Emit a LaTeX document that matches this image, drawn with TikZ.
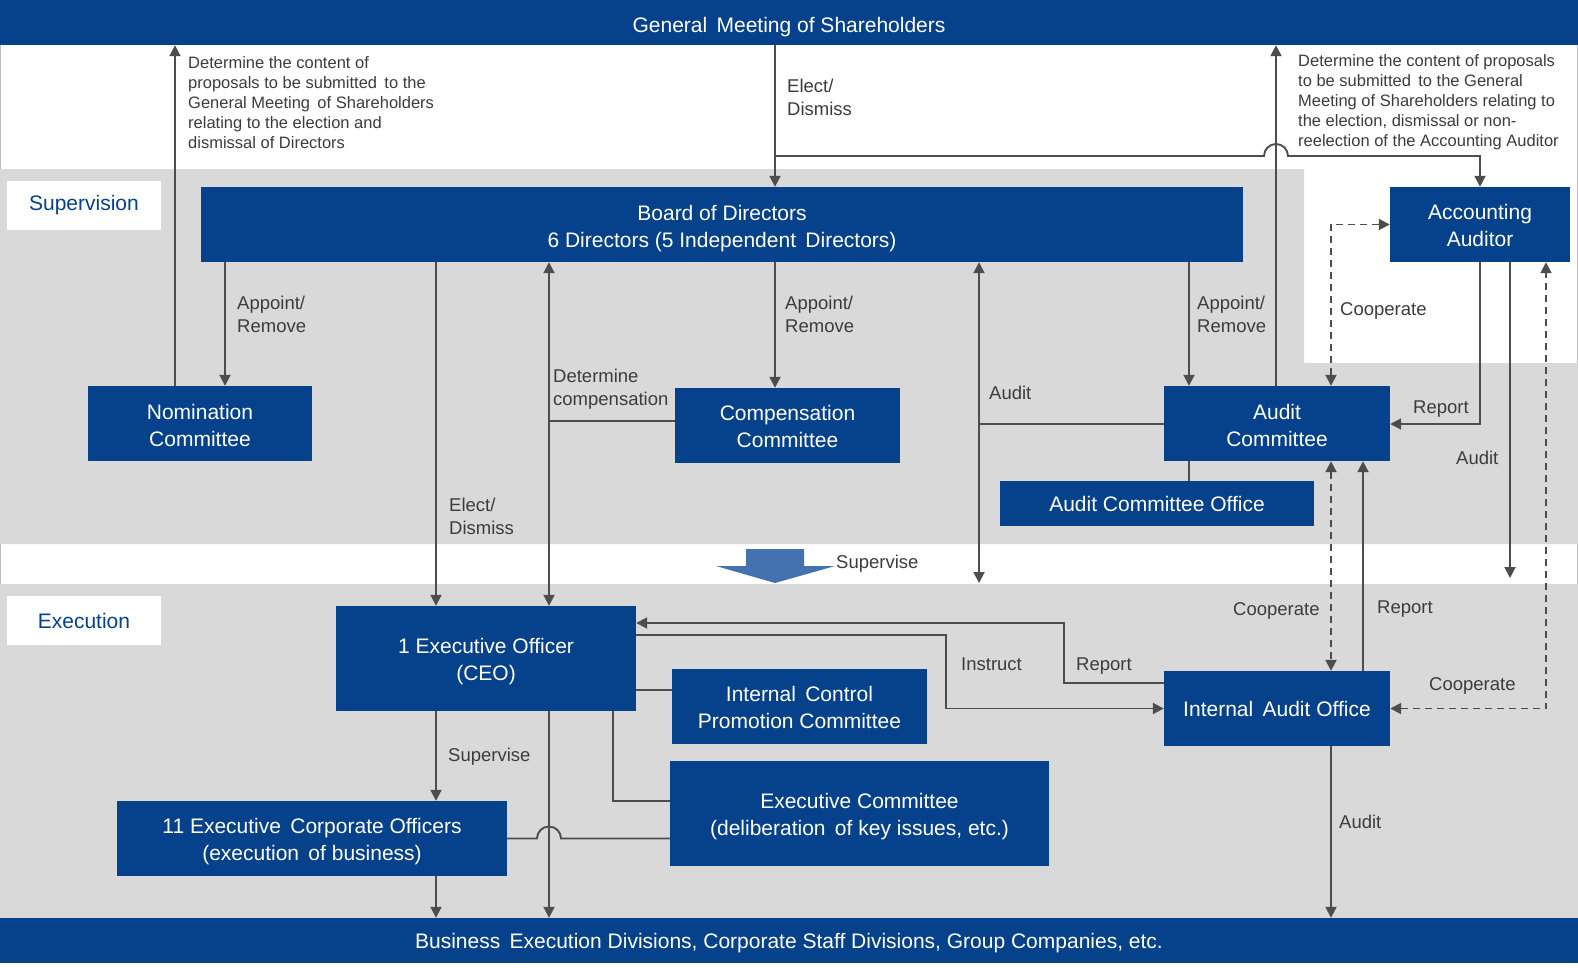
\documentclass[tikz,border=0pt]{standalone}
\usepackage{fontspec}
\setmainfont{Liberation Sans}
\usetikzlibrary{arrows.meta}
\definecolor{dblue}{RGB}{6,65,139}
\definecolor{bggray}{RGB}{217,217,217}
\definecolor{lgray}{RGB}{77,77,77}
\definecolor{txtgray}{RGB}{60,60,60}
\definecolor{arrblue}{RGB}{68,114,176}
\newcommand\bxfont{\fontsize{21}{27}\selectfont}
\newcommand\lbfont{\fontsize{18.5}{23}\selectfont}
\newcommand\ldfont{\fontsize{16.5}{20}\selectfont}
\newcommand\sdn[1]{\rule{0pt}{#1pt}}
\tikzset{
  box/.style={fill=dblue, text=white, font=\bxfont, align=center, inner sep=0pt},
  tagbox/.style={fill=white, text=dblue, font=\bxfont, inner sep=0pt, minimum width=154pt, minimum height=49pt},
  ln/.style={draw=lgray, line width=1.9pt},
  arr/.style={ln, -{Triangle[length=11pt,width=11pt]}},
  dbl/.style={ln, {Triangle[length=11pt,width=11pt]}-{Triangle[length=11pt,width=11pt]}},
  ddbl/.style={dbl, dash pattern=on 7pt off 5pt},
  lbl/.style={font=\lbfont, text=txtgray, anchor=west, inner sep=0pt, align=left},
  lng/.style={font=\ldfont, text=txtgray, anchor=west, inner sep=0pt, align=left}
}
\begin{document}
\begin{tikzpicture}[x=1pt,y=-1pt]
\useasboundingbox (0,0) rectangle (1578,967);
% backgrounds
\fill[white] (0,0) rectangle (1578,967);
\fill[bggray] (0,169) -- (1304,169) -- (1304,363) -- (1578,363) -- (1578,544) -- (0,544) -- cycle;
\fill[bggray] (0,584) rectangle (1578,918);
\draw[gray!50, line width=0.8pt] (0.4,45) -- (0.4,169) (0.4,544) -- (0.4,584);
\draw[gray!50, line width=0.8pt] (1577.6,45) -- (1577.6,363) (1577.6,544) -- (1577.6,584);

% section tags
\node[tagbox] (sup) at (84,205.5) {Supervision};
\node[tagbox] (exe) at (84,620.5) {Execution};

% bars
\node[box, minimum width=1578pt, minimum height=45pt] (top) at (789,22.5) {\sdn{23.5}General\, Meeting of Shareholders};
\node[box, minimum width=1578pt, minimum height=45pt] (bot) at (789,940.5) {\sdn{19.5}Business\, Execution Divisions, Corporate Staff Divisions, Group Companies, etc.};

% boxes
\node[box, minimum width=1042pt, minimum height=75pt] (board) at (722,224.5) {\sdn{23.5}Board of Directors\\6 Directors (5 Independent\, Directors)};
\node[box, minimum width=180pt, minimum height=75pt] (acc) at (1480,224.5) {\sdn{17.5}Accounting\\Auditor};
\node[box, minimum width=224pt, minimum height=75pt] (nom) at (200,423.5) {\sdn{19.5}Nomination\\Committee};
\node[box, minimum width=225pt, minimum height=75pt] (comp) at (787.5,425.5) {\sdn{17.5}Compensation\\Committee};
\node[box, minimum width=226pt, minimum height=75pt] (audc) at (1277,423.5) {\sdn{19.5}Audit\\Committee};
\node[box, minimum width=314pt, minimum height=45pt] (aco) at (1157,503.5) {Audit Committee Office};
\node[box, minimum width=300pt, minimum height=105pt] (ceo) at (486,658.5) {\sdn{21.5}1 Executive Officer\\(CEO)};
\node[box, minimum width=255pt, minimum height=75pt] (icp) at (799.5,706.5) {\sdn{17.5}Internal\, Control\\Promotion Committee};
\node[box, minimum width=379pt, minimum height=105pt] (ec) at (859.5,813.5) {\sdn{21.5}Executive Committee\\(deliberation\, of key issues, etc.)};
\node[box, minimum width=390pt, minimum height=75pt] (eco) at (312,838.5) {\sdn{21.5}11 Executive\, Corporate Officers\\(execution\, of business)};
\node[box, minimum width=226pt, minimum height=75pt] (iao) at (1277,708.5) {Internal\, Audit Office};

% supervise block arrow
\fill[arrblue] (746,549) -- (804,549) -- (804,566) -- (835,566) -- (775,583) -- (716,566) -- (746,566) -- cycle;

% helper coordinates
\coordinate (cNomUp) at (175,0);
\coordinate (cNomDn) at (225,0);
\coordinate (cElect) at (436,0);
\coordinate (cComp) at (549,0);
\coordinate (cMid) at (775,0);
\coordinate (cAudV) at (979,0);
\coordinate (cAppAud) at (1189,0);
\coordinate (cAudUp) at (1276,0);
\coordinate (cCoop) at (1331,0);
\coordinate (cRepIA) at (1363,0);
\coordinate (cAccAud) at (1510,0);
\coordinate (cCoop2) at (1546,0);
\coordinate (cEC) at (613,0);
\coordinate (cInstr) at (946,0);
\coordinate (cRep2) at (1064,0);
\coordinate (ySplit) at (0,156);
\coordinate (yCompH) at (0,421);
\coordinate (yAudH) at (0,424);
\coordinate (yExecTop) at (0,583);
\coordinate (yAccAud) at (0,578);
\coordinate (yRepCEO) at (0,623);
\coordinate (yInstr) at (0,635);
\coordinate (yRep2) at (0,683);
\coordinate (yIC) at (0,690);

% connectors
\draw[arr] (nom.north -| cNomUp) -- (top.south -| cNomUp);
\draw[arr] (board.south -| cNomDn) -- (nom.north -| cNomDn);
\draw[arr] (board.south -| cElect) -- (ceo.north -| cElect);
\draw[dbl] (board.south -| cComp) -- (ceo.north -| cComp);
\draw[ln] (comp.west |- yCompH) -- (yCompH -| cComp);
\draw[arr] (top.south -| cMid) -- (board.north -| cMid);
\draw[arr] (ySplit -| cMid) -- ([xshift=-12pt]ySplit -| cAudUp) arc[start angle=180,end angle=0,radius=12pt] -- (ySplit -| acc.north) -- (acc.north);
\draw[arr] (board.south -| cMid) -- (comp.north -| cMid);
\draw[arr] (audc.north -| cAudUp) -- (top.south -| cAudUp);
\draw[arr] (board.south -| cAppAud) -- (audc.north -| cAppAud);
\draw[ln] (audc.south -| cAppAud) -- (aco.north -| cAppAud);
\draw[dbl] (board.south -| cAudV) -- (yExecTop -| cAudV);
\draw[ln] (audc.west |- yAudH) -- (yAudH -| cAudV);
\draw[ddbl] (acc.west) -- (acc.west -| cCoop) -- (audc.north -| cCoop);
\draw[arr] (acc.south) -- (acc.south |- yAudH) -- (audc.east |- yAudH);
\draw[arr] (acc.south -| cAccAud) -- (yAccAud -| cAccAud);
\draw[ddbl] (iao.east) -- (iao.east -| cCoop2) -- (acc.south -| cCoop2);
\draw[ddbl] (audc.south -| cCoop) -- (iao.north -| cCoop);
\draw[arr] (iao.north -| cRepIA) -- (audc.south -| cRepIA);
\draw[arr] (iao.south -| cCoop) -- (bot.north -| cCoop);
\draw[arr] (iao.west |- yRep2) -- (yRep2 -| cRep2) -- (yRepCEO -| cRep2) -- (ceo.east |- yRepCEO);
\draw[arr] (ceo.east |- yInstr) -- (yInstr -| cInstr) -- (iao.west -| cInstr) -- (iao.west);
\draw[ln] (ceo.east |- yIC) -- (icp.west |- yIC);
\draw[ln] (ceo.south -| cEC) -- (eco.north -| cEC) -- (ec.west |- eco.north);
\draw[arr] (ceo.south -| cElect) -- (eco.north -| cElect);
\draw[arr] (ceo.south -| cComp) -- (bot.north -| cComp);
\draw[arr] (eco.south -| cElect) -- (bot.north -| cElect);
\draw[ln] (eco.east) -- ([xshift=-12pt]eco.east -| cComp) arc[start angle=180,end angle=0,radius=12pt] -- (ec.west |- eco.east);

% labels
\node[lng] (l1) at (188,103) {Determine the content of\\proposals to be submitted\, to the\\General Meeting\, of Shareholders\\relating to the election and\\dismissal of Directors};
\node[lng] (l2) at (1298,102.5) {Determine the content of proposals\\to be submitted\, to the General\\Meeting of Shareholders relating to\\the election, dismissal or non-\\reelection of the Accounting Auditor};
\node[lbl] (l3) at (787,97.5) {Elect/\\Dismiss};
\node[lbl] (l4) at (237,314.5) {Appoint/\\Remove};
\node[lbl] (l5) at (785,314.5) {Appoint/\\Remove};
\node[lbl] (l6) at (1197,314.5) {Appoint/\\Remove};
\node[lbl] (l7) at (553,389.5) {Determine\\compensation};
\node[lbl] (l8) at (449,516) {Elect/\\Dismiss};
\node[lbl] (l9) at (989,393) {Audit};
\node[lbl] (l10) at (1340,311) {Cooperate};
\node[lbl] (l11) at (1413,409) {Report};
\node[lbl] (l12) at (1456,458) {Audit};
\node[lbl] (l13) at (836,564) {Supervise};
\node[lbl] (l14) at (1233,611) {Cooperate};
\node[lbl] (l15) at (1377,609) {Report};
\node[lbl] (l16) at (961,664) {Instruct};
\node[lbl] (l17) at (1076,666) {Report};
\node[lbl] (l18) at (1429,686) {Cooperate};
\node[lbl] (l19) at (448,757) {Supervise};
\node[lbl] (l20) at (1339,822) {Audit};
\end{tikzpicture}
\end{document}
